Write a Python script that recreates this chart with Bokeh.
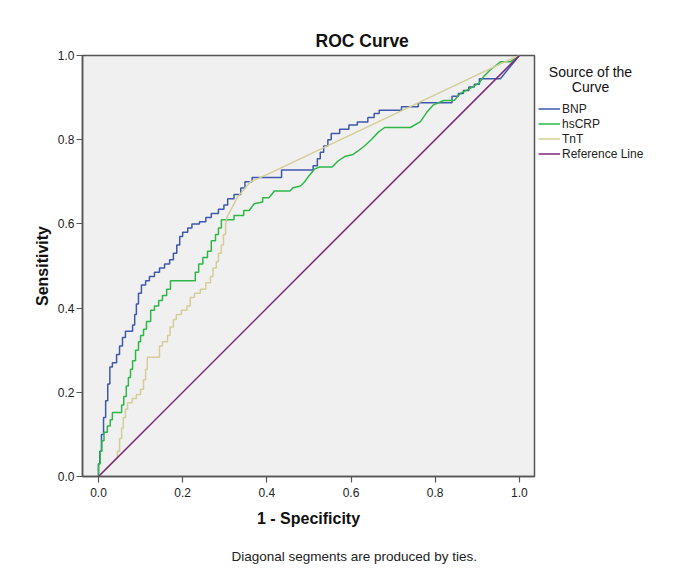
import numpy as np
from bokeh.plotting import figure
from bokeh.models import Range1d, FixedTicker, Legend, LegendItem, Title
from bokeh.layouts import row
from bokeh.core.properties import value
from bokeh.embed import file_html
from bokeh.resources import INLINE

# ---------------- data ----------------
tick_values = [0.0, 0.2, 0.4, 0.6, 0.8, 1.0]
tick_labels = ["0.0", "0.2", "0.4", "0.6", "0.8", "1.0"]

series_names = ["BNP", "hsCRP", "TnT", "Reference Line"]

bnp_fpr = [0, 0, 0.003, 0.003, 0.007, 0.007, 0.012, 0.012, 0.017, 0.017, 0.022, 0.022,
           0.027, 0.027, 0.033, 0.033, 0.043, 0.043, 0.05, 0.05, 0.057, 0.057, 0.064, 0.064,
           0.081, 0.081, 0.086, 0.086, 0.09, 0.09, 0.095, 0.095, 0.102, 0.102, 0.112, 0.112,
           0.121, 0.121, 0.133, 0.133, 0.145, 0.145, 0.157, 0.157, 0.169, 0.169, 0.178, 0.178,
           0.186, 0.186, 0.193, 0.193, 0.2, 0.2, 0.212, 0.212, 0.222, 0.222, 0.24, 0.24,
           0.255, 0.255, 0.268, 0.268, 0.285, 0.285, 0.298, 0.298, 0.307, 0.307, 0.322, 0.322,
           0.338, 0.338, 0.348, 0.348, 0.365, 0.365, 0.435, 0.435, 0.51, 0.51, 0.52, 0.52,
           0.527, 0.527, 0.535, 0.535, 0.545, 0.545, 0.553, 0.553, 0.573, 0.573, 0.595, 0.595,
           0.615, 0.615, 0.64, 0.64, 0.655, 0.655, 0.667, 0.667, 0.72, 0.72, 0.76, 0.76,
           0.84, 0.84, 0.855, 0.855, 0.867, 0.867, 0.88, 0.88, 0.893, 0.893, 0.905, 0.905,
           0.955, 1.0]
bnp_tpr = [0, 0.03, 0.03, 0.06, 0.06, 0.10, 0.10, 0.14, 0.14, 0.18, 0.18, 0.22,
           0.22, 0.26, 0.26, 0.27, 0.27, 0.29, 0.29, 0.31, 0.31, 0.33, 0.33, 0.345,
           0.345, 0.36, 0.36, 0.385, 0.385, 0.41, 0.41, 0.435, 0.435, 0.455, 0.455, 0.465,
           0.465, 0.475, 0.475, 0.485, 0.485, 0.495, 0.495, 0.505, 0.505, 0.515, 0.515, 0.53,
           0.53, 0.55, 0.55, 0.57, 0.57, 0.58, 0.58, 0.59, 0.59, 0.60, 0.60, 0.605,
           0.605, 0.615, 0.615, 0.625, 0.625, 0.635, 0.635, 0.645, 0.645, 0.66, 0.66, 0.67,
           0.67, 0.685, 0.685, 0.70, 0.70, 0.71, 0.71, 0.728, 0.728, 0.738, 0.738, 0.755,
           0.755, 0.77, 0.77, 0.785, 0.785, 0.80, 0.80, 0.815, 0.815, 0.825, 0.825, 0.835,
           0.835, 0.842, 0.842, 0.853, 0.853, 0.862, 0.862, 0.87, 0.87, 0.878, 0.878, 0.888,
           0.888, 0.903, 0.903, 0.91, 0.91, 0.917, 0.917, 0.925, 0.925, 0.932, 0.932, 0.945,
           0.945, 1.0]

hscrp_fpr = [0, 0, 0.004, 0.004, 0.008, 0.008, 0.013, 0.013, 0.021, 0.021, 0.028, 0.028,
             0.033, 0.033, 0.055, 0.055, 0.06, 0.06, 0.066, 0.066, 0.071, 0.071, 0.076, 0.076,
             0.081, 0.081, 0.088, 0.088, 0.095, 0.095, 0.1, 0.1, 0.107, 0.107, 0.114, 0.114,
             0.124, 0.124, 0.133, 0.133, 0.143, 0.143, 0.152, 0.152, 0.162, 0.162, 0.171, 0.171,
             0.23, 0.23, 0.238, 0.238, 0.248, 0.248, 0.259, 0.259, 0.268, 0.268, 0.278, 0.278,
             0.285, 0.285, 0.292, 0.292, 0.302, 0.322, 0.322, 0.345, 0.345, 0.358, 0.37, 0.39,
             0.39, 0.405, 0.418, 0.455, 0.462, 0.48, 0.49, 0.5, 0.513, 0.525, 0.555, 0.57,
             0.585, 0.605, 0.615, 0.632, 0.648, 0.665, 0.68, 0.741, 0.765, 0.78, 0.795, 0.82,
             0.845, 0.86, 0.88, 0.905, 0.915, 0.93, 0.955, 0.978, 1.0]
hscrp_tpr = [0, 0.03, 0.03, 0.06, 0.06, 0.085, 0.085, 0.105, 0.105, 0.12, 0.12, 0.135,
             0.135, 0.152, 0.152, 0.17, 0.17, 0.19, 0.19, 0.215, 0.215, 0.235, 0.235, 0.255,
             0.255, 0.275, 0.275, 0.30, 0.30, 0.32, 0.32, 0.335, 0.335, 0.35, 0.35, 0.368,
             0.368, 0.395, 0.395, 0.405, 0.405, 0.418, 0.418, 0.43, 0.43, 0.445, 0.445, 0.465,
             0.465, 0.485, 0.485, 0.505, 0.505, 0.52, 0.52, 0.535, 0.535, 0.56, 0.56, 0.575,
             0.575, 0.59, 0.59, 0.61, 0.61, 0.61, 0.62, 0.62, 0.632, 0.632, 0.648, 0.652,
             0.662, 0.662, 0.678, 0.678, 0.686, 0.69, 0.70, 0.714, 0.73, 0.735, 0.735, 0.75,
             0.76, 0.765, 0.772, 0.785, 0.80, 0.818, 0.829, 0.829, 0.843, 0.865, 0.882, 0.893,
             0.893, 0.91, 0.92, 0.935, 0.95, 0.965, 0.985, 0.985, 1.0]

tnt_fpr = [0, 0.045, 0.045, 0.05, 0.05, 0.055, 0.055, 0.059, 0.059, 0.064, 0.064, 0.069,
           0.069, 0.08, 0.08, 0.09, 0.09, 0.1, 0.1, 0.107, 0.107, 0.112, 0.112, 0.116,
           0.116, 0.145, 0.145, 0.152, 0.152, 0.164, 0.164, 0.17, 0.17, 0.178, 0.178, 0.185,
           0.185, 0.197, 0.197, 0.21, 0.21, 0.218, 0.218, 0.228, 0.228, 0.242, 0.242, 0.255,
           0.255, 0.266, 0.266, 0.272, 0.272, 0.28, 0.28, 0.285, 0.285, 0.292, 0.292, 0.297,
           0.297, 0.302, 0.302, 0.306, 0.33, 0.361, 0.40, 0.955, 1.0]
tnt_tpr = [0, 0.045, 0.06, 0.06, 0.09, 0.09, 0.115, 0.115, 0.14, 0.14, 0.16, 0.16,
           0.175, 0.175, 0.185, 0.185, 0.195, 0.195, 0.207, 0.207, 0.23, 0.23, 0.255, 0.255,
           0.283, 0.283, 0.31, 0.31, 0.32, 0.32, 0.335, 0.335, 0.355, 0.355, 0.373, 0.373,
           0.385, 0.385, 0.395, 0.395, 0.405, 0.405, 0.425, 0.425, 0.435, 0.435, 0.445, 0.445,
           0.46, 0.46, 0.475, 0.475, 0.495, 0.495, 0.51, 0.51, 0.53, 0.53, 0.55, 0.55,
           0.575, 0.575, 0.60, 0.617, 0.663, 0.70, 0.717, 0.98, 1.0]

ref_fpr = [0.0, 1.0]
ref_tpr = [0.0, 1.0]

legend_title_lines = ["Source of the", "Curve"]
colors = ["#3E58AC", "#2EB848", "#D3CE97", "#7C287D"]

FONT = "Liberation Sans"
TXT = "#111111"

TOP, FH, BOTTOM = 55, 421, 90

# ---------------- main plot ----------------
p = figure(frame_width=452, frame_height=FH,
           x_range=Range1d(-0.038, 1.036), y_range=Range1d(0, 1),
           min_border_left=82, min_border_right=2, min_border_top=TOP, min_border_bottom=BOTTOM,
           output_backend="svg", toolbar_location=None,
           background_fill_color="#f0f0f0", border_fill_color="white")

p.grid.visible = False
p.outline_line_color = "#555555"
p.outline_line_width = 1.5

for ax in (p.xaxis[0], p.yaxis[0]):
    ax.ticker = FixedTicker(ticks=tick_values)
    ax.major_label_overrides = {v: s for v, s in zip(tick_values, tick_labels)}
    ax.axis_line_color = "#555555"
    ax.axis_line_width = 1.5
    ax.major_tick_line_color = "#555555"
    ax.major_tick_line_width = 1.2
    ax.major_tick_in = 0
    ax.major_tick_out = 6
    ax.minor_tick_line_color = None
    ax.major_label_text_font = FONT
    ax.major_label_text_font_size = "12px"
    ax.major_label_text_color = "#222222"
p.xaxis[0].major_label_standoff = 5
p.yaxis[0].major_label_standoff = 2

series = [(bnp_fpr, bnp_tpr), (hscrp_fpr, hscrp_tpr), (tnt_fpr, tnt_tpr), (ref_fpr, ref_tpr)]
for (xs, ys), c in zip(series, colors):
    p.line(xs, ys, line_color=c, line_width=1.5)

# titles
p.title.text = "ROC Curve"
p.title.align = "left"
p.title.offset = 233
p.title.text_font = FONT
p.title.text_font_size = "17.5px"
p.title.text_font_style = "bold"
p.title.text_color = TXT
p.title.standoff = 9

p.add_layout(Title(text="Sensitivity", align="center", text_font=FONT, text_font_size="16px",
                   text_font_style="bold", text_color=TXT, standoff=8), "left")
p.add_layout(Title(text="1 - Specificity", align="center", text_font=FONT, text_font_size="16px",
                   text_font_style="bold", text_color=TXT, standoff=16), "below")
p.add_layout(Title(text="Diagonal segments are produced by ties.", align="left", offset=149,
                   text_font=FONT, text_font_size="13.5px", text_font_style="normal",
                   text_color="#222222", standoff=25), "below")

# ---------------- legend panel (same vertical borders, frame aligned) ----------------
SW = 133
s = figure(frame_width=SW, frame_height=FH, x_range=Range1d(0, SW), y_range=Range1d(0, FH),
           min_border_left=0, min_border_right=0, min_border_top=TOP, min_border_bottom=BOTTOM,
           x_axis_type=None, y_axis_type=None,
           output_backend="svg", toolbar_location=None)
s.grid.visible = False
s.outline_line_color = None

s.text(x=[54, 54], y=[405, 390], text=legend_title_lines, text_align="center",
       text_baseline="middle", text_font=value(FONT), text_font_size="14px", text_color=TXT)

# invisible stand-in renderers (one NaN point each) so the legend can draw its line samples
dummies = [s.line(x=np.array([np.nan]), y=np.array([np.nan]), line_color=c, line_width=1.5)
           for c in colors]
legend = Legend(items=[LegendItem(label=n, renderers=[r]) for n, r in zip(series_names, dummies)],
                location=(2, 315), orientation="vertical")
legend.border_line_color = None
legend.background_fill_alpha = 0
legend.padding = 0
legend.margin = 0
legend.spacing = 0
legend.glyph_width = 22
legend.glyph_height = 15
legend.label_height = 15
legend.label_standoff = 2
legend.label_text_font = FONT
legend.label_text_font_size = "12px"
legend.label_text_color = "#222222"
s.add_layout(legend)

layout = row(p, s, spacing=0)
open("out.html", "w").write(file_html(layout, INLINE))
